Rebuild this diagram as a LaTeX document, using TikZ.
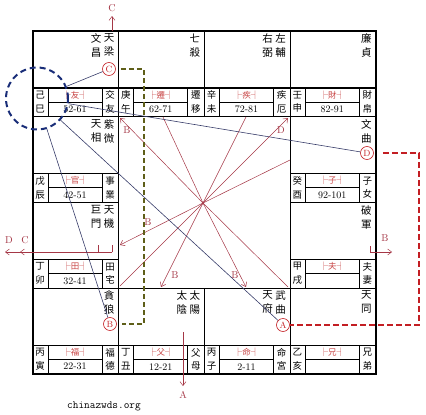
\documentclass[tikz,border=0pt]{standalone}
\usepackage{fontspec}
\newfontfamily\cjk{Noto Sans CJK TC}
\usetikzlibrary{arrows.meta,positioning,calc}
\definecolor{rust}{RGB}{165,55,70}
\definecolor{tagred}{RGB}{200,70,70}
\definecolor{navy}{RGB}{25,45,120}
\definecolor{slate}{RGB}{55,60,105}
\definecolor{signal}{RGB}{195,30,35}
\definecolor{moss}{RGB}{95,95,25}
\tikzset{
  >={Straight Barb[length=4pt,width=6pt]},
  cellbox/.style={draw,line width=1.1pt},
  star/.style={font=\cjk\fontsize{10.5}{14}\selectfont,align=center,inner sep=0pt,anchor=north},
  gan/.style={font=\cjk\fontsize{9.5}{13.5}\selectfont,align=center,inner sep=0pt},
  tag/.style={font=\cjk\fontsize{8.5}{9}\selectfont,text=tagred,inner sep=0pt},
  age/.style={font=\fontsize{10}{10}\selectfont,inner sep=0pt},
  ray/.style={draw=rust,line width=0.5pt},
  ray label/.style={font=\fontsize{10}{10}\selectfont,text=rust,inner sep=0pt},
  ring/.style={circle,draw=signal,text=signal,line width=0.6pt,minimum size=13pt,
    inner sep=0pt,font=\fontsize{9}{9}\selectfont},
  hub/.style={circle,draw=navy,line width=2pt,dash pattern=on 6pt off 4pt,
    minimum size=62pt,inner sep=0pt},
  link/.style={draw=slate,line width=0.6pt},
  trail/.style={line width=2pt,dash pattern=on 6pt off 3pt,draw=#1},
  trail/.default=signal,
}
\begin{document}
\begin{tikzpicture}[x=1pt,y=-1pt]
  \useasboundingbox (0,0) rectangle (426,415);
  % twelve palaces
  \foreach \cx/\cy/\gz/\tg/\ag/\gn/\sa/\sb in {
    0/0/{己\\巳}/友/52-61/{交\\友}/{天\\梁}/{文\\昌},
    1/0/{庚\\午}/遷/62-71/{遷\\移}/{七\\殺}/{},
    2/0/{辛\\未}/疾/72-81/{疾\\厄}/{左\\輔}/{右\\弼},
    3/0/{壬\\申}/財/82-91/{財\\帛}/{廉\\貞}/{},
    3/1/{癸\\酉}/子/92-101/{子\\女}/{文\\曲}/{},
    3/2/{甲\\戌}/夫/{}/{夫\\妻}/{破\\軍}/{},
    3/3/{乙\\亥}/兄/{}/{兄\\弟}/{天\\同}/{},
    2/3/{丙\\子}/命/2-11/{命\\宮}/{武\\曲}/{天\\府},
    1/3/{丁\\丑}/父/12-21/{父\\母}/{太\\陽}/{太\\陰},
    0/3/{丙\\寅}/福/22-31/{福\\德}/{貪\\狼}/{},
    0/2/{丁\\卯}/田/32-41/{田\\宅}/{天\\機}/{巨\\門},
    0/1/{戊\\辰}/官/42-51/{事\\業}/{紫\\微}/{天\\相}}{
    \begin{scope}[shift={({33+85.75*\cx},{31+85.75*\cy})}]
      \draw[cellbox] (0,0) rectangle (85.75,85.75);
      \draw[cellbox] (0,57) -- (85.75,57);
      \draw[line width=0.6pt] (15,57) -- (15,85.75) (69,57) -- (69,85.75);
      \draw[line width=1pt] (15,71) -- (69,71);
      \node[star] (sa\cx\cy) at (76,2.5) {\sa};
      \node[star] (sb\cx\cy) at (63,2.5) {\sb};
      \node[gan] (gz\cx\cy) at (7,71) {\gz};
      \node[tag] (tg\cx\cy) at (42,64) {├\tg┤};
      \node[age] (ag\cx\cy) at (42,78.5) {\ag};
      \node[gan] (gn\cx\cy) at (77,71) {\gn};
    \end{scope}
  }
  \draw[line width=1.5pt] (33,31) rectangle (376,374);

  % rays from the centre
  \coordinate (ctr) at (203,203);
  \coordinate (e1) at (120,118);
  \coordinate (e2) at (163,117);
  \coordinate (e3) at (246,117);
  \coordinate (e4) at (288,118);
  \coordinate (e5) at (290,160);
  \coordinate (e6) at (120,245);
  \coordinate (e7) at (120,286);
  \coordinate (e8) at (161,287);
  \coordinate (e9) at (246,287);
  \coordinate (e10) at (288,287);
  \foreach \e in {2,3,5,7,10} \draw[ray] (ctr) -- (e\e);
  \foreach \e in {1,4,6,8,9} \draw[ray,->] (ctr) -- (e\e);
  \node[ray label] (lb1) at (127,130) {B};
  \node[ray label] (lb4) at (281,130) {D};
  \node[ray label] (lb6) at (148,222) {B};
  \node[ray label] (lb8) at (175,275) {B};
  \node[ray label] (lb9) at (235,275) {B};

  % outer arrows
  \coordinate (nT0) at (112,31);  \coordinate (nT1) at (112,16);
  \draw[ray,->] (nT0) -- (nT1);
  \node[ray label] (lbT) at (112,8) {C};
  \coordinate (nB0) at (183,332); \coordinate (nB1) at (183,386);
  \draw[ray,->] (nB0) -- (nB1);
  \node[ray label] (lbB) at (183,395) {A};
  \coordinate (nL0) at (112,252); \coordinate (nL1) at (20,252); \coordinate (nL2) at (5,252);
  \draw[ray,->] (nL0) -- (nL2);
  \draw[ray,->] (nL0) -- (nL1);
  \draw[ray] (nL0) -- ++(0,-7) (98,252) -- ++(0,-7);
  \node[ray label] (lbL1) at (9,240) {D};
  \node[ray label] (lbL2) at (25,240) {C};
  \coordinate (nR0) at (370,246); \coordinate (nR1) at (392,252);
  \draw[ray,->] (nR0) |- (nR1);
  \node[ray label] (lbR) at (385,238) {B};

  % marked stars and the hub
  \node[ring] (cC) at (109,69) {C};
  \node[ring] (cD) at (367,153) {D};
  \node[ring] (cA) at (283,325) {A};
  \node[ring] (cB) at (110,324) {B};
  \node[hub] (hub) at (37,98.5) {};
  \foreach \t in {cC,cD,cA,cB} \draw[link] (hub) -- (\t);
  \draw[trail=moss,dash pattern=on 5pt off 3pt,shorten <=5pt,shorten >=5pt]
    (cC.east) -- ++(28,0) |- (cB.east);
  \draw[trail,shorten <=9pt] (cD.east) -- ++(45,0) |- (cA.east);

  \node[font=\ttfamily\fontsize{11}{11}\selectfont] (site) at (104,406) {chinazwds.org};
\end{tikzpicture}
\end{document}
